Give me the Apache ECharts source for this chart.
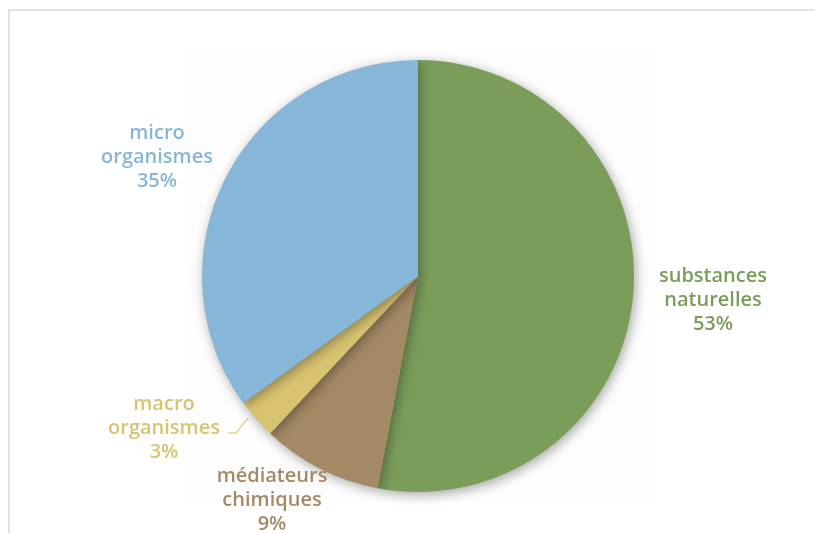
<!DOCTYPE html>
<html>
<head>
<meta charset="utf-8">
<script src="https://cdn.jsdelivr.net/npm/echarts@6/dist/echarts.min.js"></script>
<style>
  html, body { margin: 0; padding: 0; background: #fff; }
  #main { width: 815px; height: 533px; }
</style>
</head>
<body>
<div id="main"></div>
<script>
// categories & values (clockwise from 12 o'clock)
const categories = ["substances naturelles", "médiateurs chimiques", "macro organismes", "micro organismes"];
const values = [53, 9, 3, 35];
const colors = ["#7a9d5a", "#a48965", "#d8c370", "#86b6d8"];

// label placement (centre of each text block)
const labelSpots = [
  { x: 713, y: 300 },
  { x: 272, y: 500 },
  { x: 164, y: 428 },
  { x: 157, y: 157 }
];

let myChart = echarts.init(document.getElementById("main"));
let option = {
  animation: false,
  graphic: [
    {
      type: "rect",
      shape: { x: 9, y: 10, width: 830, height: 560 },
      style: { fill: "#fff", stroke: "#e2e2e2", lineWidth: 2 },
      z: -10
    },
    {
      type: "rect",
      shape: { x: 185, y: 50, width: 467, height: 452 },
      style: { fill: "#fdfdfd" },
      z: -9
    }
  ],
  series: [
    {
      type: "pie",
      center: [418, 276],
      radius: 216,
      startAngle: 90,
      clockwise: true,
      data: categories.map((name, i) => ({
        name: name,
        value: values[i],
        itemStyle: { color: colors[i] },
        label: { color: colors[i] },
        labelLine: { show: i === 2, lineStyle: { color: colors[i], width: 1.2 } }
      })),
      itemStyle: {
        shadowBlur: 12,
        shadowColor: "rgba(0,0,0,0.35)",
        shadowOffsetX: 2,
        shadowOffsetY: 3
      },
      label: {
        show: true,
        position: "outside",
        fontFamily: "Open Sans",
        fontWeight: 600,
        fontSize: 20,
        lineHeight: 24,
        align: "center",
        formatter: p => p.name.replace(" ", "\n") + "\n" + p.percent + "%"
      },
      labelLine: { show: false },
      labelLayout: p => {
        const s = labelSpots[p.dataIndex];
        const out = { x: s.x, y: s.y, align: "center", verticalAlign: "middle" };
        if (p.dataIndex === 2) {
          out.labelLinePoints = [[248, 418], [236, 433], [228, 433]];
        }
        return out;
      },
      emphasis: { disabled: true }
    }
  ]
};
myChart.setOption(option);
</script>
</body>
</html>
